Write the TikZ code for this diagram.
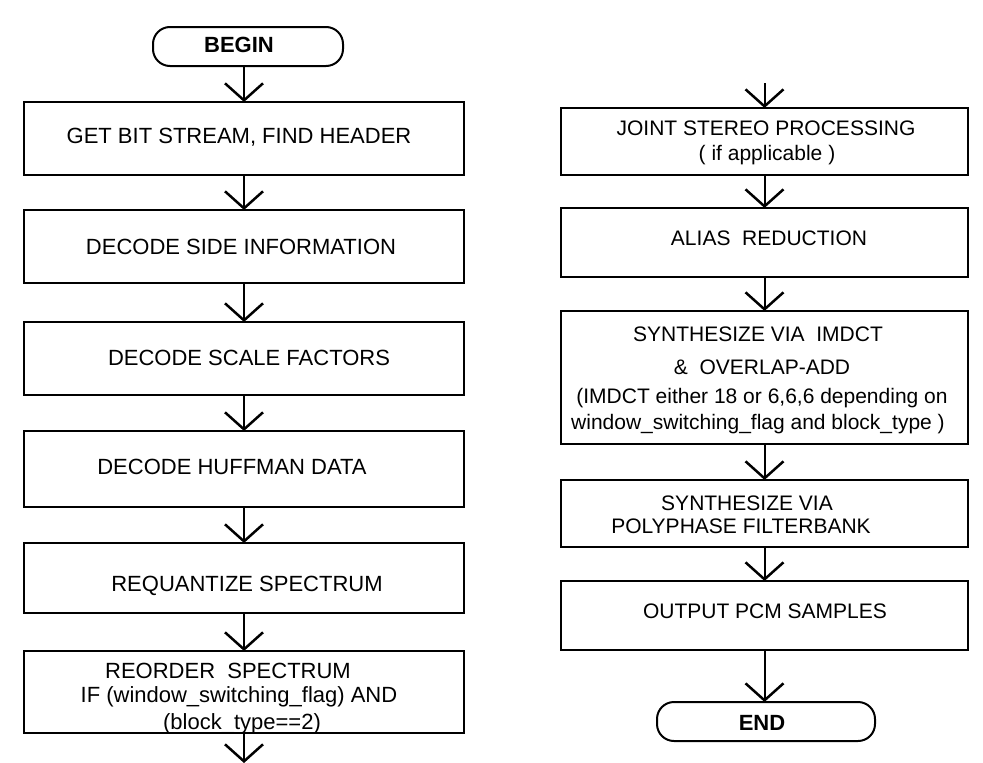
\documentclass[tikz,border=0pt]{standalone}
\usepackage{fontspec}
\setmainfont{Liberation Sans}
\usetikzlibrary{arrows.meta}
\begin{document}
\begin{tikzpicture}[x=1pt,y=-1pt,
  box/.style={draw,line width=2pt,rectangle,inner sep=0pt,outer sep=0pt},
  term/.style={draw,line width=2pt,rounded corners=17pt,inner sep=0pt,outer sep=0pt},
  lt/.style={anchor=base,font=\fontsize{22}{26}\selectfont,inner sep=0pt},
  rt/.style={anchor=base,font=\fontsize{21}{25}\selectfont,inner sep=0pt},
  bt/.style={anchor=base,font=\fontsize{22}{26}\selectfont\bfseries,inner sep=0pt},
  flow/.style={line width=2pt,-{Straight Barb[length=17pt,width=38pt,line width=2.5pt]}}]
\useasboundingbox (0,0) rectangle (983,763);

% left column
\node[term,minimum width=190pt,minimum height=39pt] (begin) at (248,46.5) {};
\node[box,minimum width=440pt,minimum height=73pt] (b1) at (244,138.5) {};
\node[box,minimum width=440pt,minimum height=73pt] (b2) at (244,246.5) {};
\node[box,minimum width=440pt,minimum height=73pt] (b3) at (244,358.5) {};
\node[box,minimum width=440pt,minimum height=76pt] (b4) at (244,469) {};
\node[box,minimum width=440pt,minimum height=70pt] (b5) at (244,578) {};
\node[box,minimum width=440pt,minimum height=82pt] (b6) at (244,692) {};
\coordinate (lend) at (244,763);

\node[bt] (tbegin) at (239,52) {BEGIN};
\node[lt] (t1) at (239,143) {GET BIT STREAM, FIND HEADER};
\node[lt] (t2) at (241,254) {DECODE SIDE INFORMATION};
\node[lt] (t3) at (249,365) {DECODE SCALE FACTORS};
\node[lt] (t4) at (232,474) {DECODE HUFFMAN DATA};
\node[lt] (t5) at (247,591) {REQUANTIZE SPECTRUM};
\node[lt] (t6a) at (228,678) {REORDER\ \ SPECTRUM};
\node[lt] (t6b) at (239,702) {IF (window\_switching\_flag) AND};
\node[lt] (t6c) at (242,729) {(block\_type==2)};

\draw[flow] (begin.south -| b1.north) -- (b1.north);
\draw[flow] (b1.south) -- (b2.north);
\draw[flow] (b2.south) -- (b3.north);
\draw[flow] (b3.south) -- (b4.north);
\draw[flow] (b4.south) -- (b5.north);
\draw[flow] (b5.south) -- (b6.north);
\draw[flow] (b6.south) -- (lend);

% right column
\coordinate (rstart) at (764.5,83);
\node[box,minimum width=407pt,minimum height=67pt] (r1) at (764.5,141.5) {};
\node[box,minimum width=407pt,minimum height=69pt] (r2) at (764.5,242.5) {};
\node[box,minimum width=407pt,minimum height=133pt] (r3) at (764.5,377.5) {};
\node[box,minimum width=407pt,minimum height=67pt] (r4) at (764.5,513.5) {};
\node[box,minimum width=407pt,minimum height=69pt] (r5) at (764.5,615.5) {};
\node[term,minimum width=218pt,minimum height=39pt] (end) at (766,721.5) {};

\node[rt] (s1a) at (766,135) {JOINT STEREO PROCESSING};
\node[rt] (s1b) at (767,160) {( if applicable )};
\node[rt] (s2) at (769,245) {ALIAS\ \ REDUCTION};
\node[rt] (s3a) at (758,341) {SYNTHESIZE VIA\ \ IMDCT};
\node[rt] (s3b) at (762,374) {\&\ \ OVERLAP-ADD};
\node[rt] (s3c) at (762,403) {(IMDCT either 18 or 6,6,6 depending on};
\node[rt] (s3d) at (758,429) {window\_switching\_flag and block\_type )};
\node[rt] (s4a) at (747,510) {SYNTHESIZE VIA};
\node[rt] (s4b) at (741,533) {POLYPHASE FILTERBANK};
\node[rt] (s5) at (765,618) {OUTPUT PCM SAMPLES};
\node[bt] (tend) at (762,730) {END};

\draw[flow] (rstart) -- (r1.north);
\draw[flow] (r1.south) -- (r2.north);
\draw[flow] (r2.south) -- (r3.north);
\draw[flow] (r3.south) -- (r4.north);
\draw[flow] (r4.south) -- (r5.north);
\draw[flow] (r5.south) -- (r5.south |- end.north);
\end{tikzpicture}
\end{document}
